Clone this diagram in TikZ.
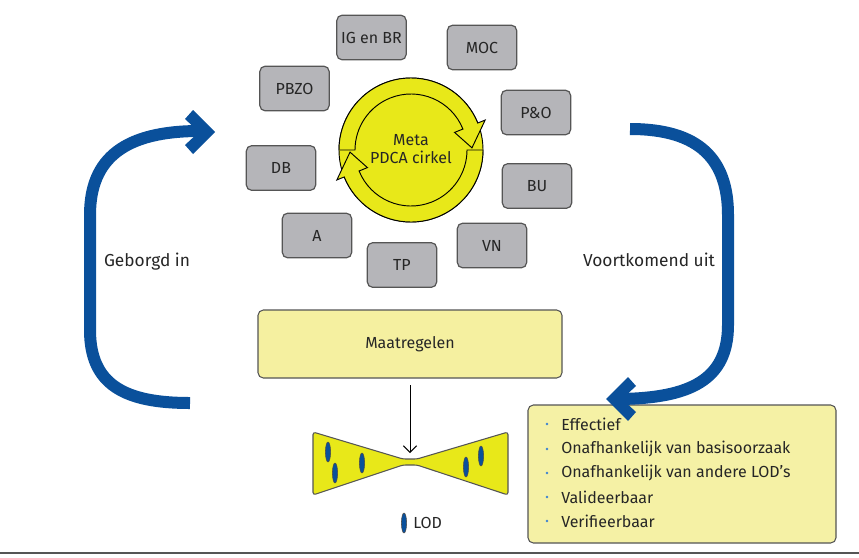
\documentclass[tikz,border=0pt]{standalone}
\usepackage{fontspec}
\setmainfont{Fira Sans}
\usetikzlibrary{arrows.meta}
\definecolor{boxgray}{RGB}{181,181,185}
\definecolor{edgegray}{RGB}{85,85,85}
\definecolor{pdcayellow}{RGB}{232,232,25}
\definecolor{paleyellow}{RGB}{245,240,160}
\definecolor{lodblue}{RGB}{10,80,155}
\definecolor{dotblue}{RGB}{60,130,210}
\begin{document}
\begin{tikzpicture}[x=0.75pt,y=-0.75pt,
  lbl/.style={font=\fontsize{12}{14}\selectfont, text=black!85},
  org/.style={lbl, draw=edgegray, line width=0.9pt, fill=boxgray, rounded corners=4pt,
    minimum width=52pt, minimum height=33.5pt, inner sep=0pt},
  pale/.style={draw=edgegray, line width=0.8pt, fill=paleyellow, rounded corners=4pt, inner sep=0pt},
  flow/.style={draw=lodblue, line width=9pt},
  flowhead/.style={fill=lodblue},
  pdcaarrow/.style={fill=pdcayellow, draw=black, line width=0.7pt, line join=miter},
  lod/.style={fill=lodblue, draw=black!70, line width=0.4pt},
  item/.style={lbl, anchor=west, inner sep=0pt},
  dot/.style={circle, fill=dotblue, inner sep=0pt, minimum size=2.2pt}]
\useasboundingbox (0,0) rectangle (859,557);

% organisation boxes
\node[org] (igbr) at (371.5,37.5) {IG en BR};
\node[org] (moc)  at (482,47.5) {MOC};
\node[org] (pbzo) at (294.5,88.5) {PBZO};
\node[org] (po)   at (536,112.5) {P\&O};
\node[org] (db)   at (281,168) {DB};
\node[org] (bu)   at (537,186) {BU};
\node[org] (a)    at (317,235.5) {A};
\node[org] (tp)   at (402,265) {TP};
\node[org] (vn)   at (492,245.5) {VN};

% PDCA circle
\node[circle, fill=pdcayellow, draw=black, line width=0.7pt, minimum size=108pt, inner sep=0pt] (pdca) at (411,150) {};
\begin{scope}[shift={(411,150)}]
  \filldraw[pdcaarrow] (180:56) -- (180:72) arc[start angle=180,end angle=338,radius=72]
    -- (338:80) -- (358:61) -- (338:47) -- (338:56)
    arc[start angle=338,end angle=180,radius=56] -- cycle;
  \filldraw[pdcaarrow] (0:56) -- (0:72) arc[start angle=0,end angle=158,radius=72]
    -- (158:80) -- (178:61) -- (158:47) -- (158:56)
    arc[start angle=158,end angle=0,radius=56] -- cycle;
\end{scope}
\node[lbl, align=center] (pdcatext) at (411,149) {Meta\\[-1pt]PDCA cirkel};

% Maatregelen
\node[pale, minimum width=228pt, minimum height=51pt, lbl] (maat) at (410,344) {Maatregelen};

% bowtie
\coordinate (bow) at (410,453);
\draw[edgegray, line width=0.8pt, fill=pdcayellow, rounded corners=2pt]
  (313,432) -- (403,459) -- (417,459) -- (508,432) -- (508,495) -- (417,465) -- (403,465) -- (313,495) -- cycle;
\draw[black, line width=0.7pt, -{Straight Barb[length=5pt,width=10pt]}, shorten <=5pt] (maat.south) -- (bow);

% LOD marks
\filldraw[lod] (328,452) ellipse[x radius=2.6, y radius=10];
\filldraw[lod] (335,473) ellipse[x radius=2.6, y radius=10];
\filldraw[lod] (362,463) ellipse[x radius=2.6, y radius=10];
\filldraw[lod] (466,467) ellipse[x radius=2.6, y radius=10];
\filldraw[lod] (481,456) ellipse[x radius=2.6, y radius=10];
\filldraw[lod] (404,523) ellipse[x radius=2.6, y radius=10];
\node[lbl, anchor=west, inner sep=0pt] (lodlabel) at (413,523) {LOD};

% criteria box
\node[pale, minimum width=231pt, minimum height=103.5pt, fill=paleyellow!95!white] (crit) at (682,474) {};
\foreach \y/\t [count=\i] in {424/Effectief, 449/Onafhankelijk van basisoorzaak, 473/Onafhankelijk van andere LOD’s, 497/Valideerbaar, 521/Verifieerbaar}{
  \node[dot] (b\i) at (547,\y) {};
  \node[item] (t\i) at (561,\y) {\t};
}

% blue flow arrows
\coordinate (lstart) at (190,403);
\coordinate (lend) at (200,131);
\draw[flow] (lstart) .. controls (125,403) and (90,385) .. (90,330) -- (90,215)
  .. controls (90,158) and (125,131) .. (lend);
\fill[flowhead] (215,132) -- (193,110) -- (185,119) -- (199,132) -- (185,145) -- (193,154) -- cycle;
\node[lbl, font=\fontsize{13}{15}\selectfont] (geborgd) at (147,262) {Geborgd in};

\coordinate (rstart) at (630,129);
\coordinate (rend) at (620,399);
\draw[flow] (rstart) .. controls (700,129) and (728,160) .. (728,215) -- (728,325)
  .. controls (728,380) and (690,398) .. (rend);
\fill[flowhead] (606,399) -- (628,377) -- (636,386) -- (622,399) -- (636,412) -- (628,421) -- cycle;
\node[lbl, font=\fontsize{13}{15}\selectfont] (voort) at (649,260) {Voortkomend uit};

% bottom rule
\draw[edgegray, line width=1pt] (0,553) -- (859,553);
\end{tikzpicture}
\end{document}
